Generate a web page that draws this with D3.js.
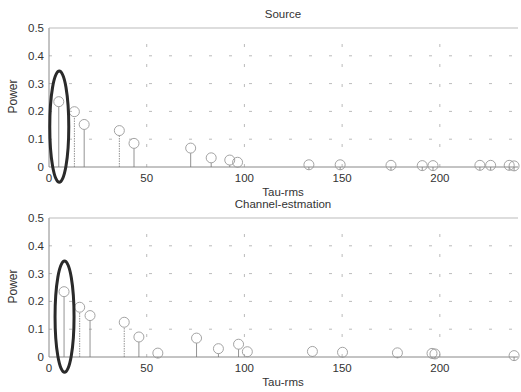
<!DOCTYPE html>
<html>
<head>
<meta charset="utf-8">
<script src="https://cdn.jsdelivr.net/npm/d3@7/dist/d3.min.js"></script>
<style>
  body { margin: 0; background: #fff; }
  svg text { font-family: "Liberation Sans", Arial, sans-serif; fill: #333; }
</style>
</head>
<body>
<svg id="chart" width="521" height="392"></svg>
<script>
// Source panel (tau-rms, power)
const sourceTau   = [5, 13, 18, 36, 43.5, 72.5, 83, 92.5, 96.5, 133, 149, 175, 191, 196.5, 220.5, 226, 235.5, 238];
const sourcePower = [0.235, 0.199, 0.153, 0.131, 0.085, 0.068, 0.033, 0.025, 0.017, 0.008, 0.008, 0.006, 0.005, 0.005, 0.006, 0.006, 0.006, 0.004];

// Channel-estimation panel
const chanTau   = [7.7, 15.7, 21, 38.5, 46, 55.7, 75.5, 86.7, 97, 101.5, 134.8, 150.2, 178.3, 196, 197.5, 238];
const chanPower = [0.235, 0.179, 0.149, 0.125, 0.072, 0.014, 0.068, 0.03, 0.046, 0.019, 0.02, 0.017, 0.015, 0.013, 0.011, 0.005];

const xTicks = [0, 50, 100, 150, 200];
const yTicks = [0, 0.1, 0.2, 0.3, 0.4, 0.5];
const titles = ["Source", "Channel-estmation"];

const svg = d3.select("#chart");
const margin = {left: 49, right: 3};
const width = 521;

const x = d3.scaleLinear().domain([0, 240]).range([margin.left, width - margin.right]);

function drawPanel(top, bottom, tau, power, title) {
  const y = d3.scaleLinear().domain([0, 0.5]).range([bottom, top]);
  const g = svg.append("g");

  // dashed grid
  g.selectAll(".hgrid").data(yTicks.slice(1, 5)).enter().append("line")
    .attr("x1", x(0)).attr("x2", x(240))
    .attr("y1", d => y(d)).attr("y2", d => y(d))
    .attr("stroke", "#aaa").attr("stroke-width", 0.8)
    .attr("stroke-dasharray", "3,17");
  g.selectAll(".vgrid").data(xTicks.slice(1)).enter().append("line")
    .attr("x1", d => x(d)).attr("x2", d => x(d))
    .attr("y1", y(0)).attr("y2", y(0.5))
    .attr("stroke", "#aaa").attr("stroke-width", 0.8)
    .attr("stroke-dasharray", "3,17");

  // axes box (left, bottom, top)
  g.append("line").attr("x1", x(0)).attr("x2", x(0)).attr("y1", y(0)).attr("y2", y(0.5))
    .attr("stroke", "#888").attr("stroke-width", 1);
  g.append("line").attr("x1", x(0)).attr("x2", x(240)).attr("y1", y(0)).attr("y2", y(0))
    .attr("stroke", "#888").attr("stroke-width", 1);
  g.append("line").attr("x1", x(0)).attr("x2", x(240)).attr("y1", y(0.5)).attr("y2", y(0.5))
    .attr("stroke", "#bbb").attr("stroke-width", 1);

  // tick labels
  g.selectAll(".ylab").data(yTicks).enter().append("text")
    .attr("x", x(0) - 5).attr("y", d => y(d)).attr("dy", "0.35em")
    .attr("text-anchor", "end").attr("font-size", 11.5)
    .text(d => d3.format(".1~f")(d));
  g.selectAll(".xlab").data(xTicks).enter().append("text")
    .attr("x", d => x(d)).attr("y", y(0) + 11).attr("dy", "0.35em")
    .attr("text-anchor", "middle").attr("font-size", 11.5)
    .text(d => d);

  // stems
  g.selectAll(".stem").data(tau).enter().append("line")
    .attr("x1", d => x(d)).attr("x2", d => x(d))
    .attr("y1", y(0)).attr("y2", (d, i) => y(power[i]) + 5)
    .attr("stroke", "#777").attr("stroke-width", 0.8)
    .attr("stroke-dasharray", (d, i) => (i === 1 || i === 3 ? "1.5,1" : null));

  // markers
  g.selectAll(".mark").data(tau).enter().append("circle")
    .attr("cx", d => x(d)).attr("cy", (d, i) => y(power[i]))
    .attr("r", 5).attr("fill", "none")
    .attr("stroke", "#999").attr("stroke-width", 0.9);

  // ellipse highlight around first component
  g.append("ellipse")
    .attr("cx", x(tau[0]) + 0.5)
    .attr("cy", y(0.145))
    .attr("rx", 9.5)
    .attr("ry", y(0) - y(0.2))
    .attr("fill", "none").attr("stroke", "#2a2a2a").attr("stroke-width", 3);

  // labels
  g.append("text").attr("x", 283).attr("y", y(0) + 25).attr("dy", "0.35em")
    .attr("text-anchor", "middle").attr("font-size", 11.5).text("Tau-rms");
  g.append("text").attr("x", 283).attr("y", top - 14).attr("dy", "0.35em")
    .attr("text-anchor", "middle").attr("font-size", 11.5).text(title);
  g.append("text")
    .attr("transform", `translate(13,${(top + bottom) / 2 - 1}) rotate(-90)`)
    .attr("dy", "0.35em").attr("text-anchor", "middle").attr("font-size", 12)
    .text("Power");
}

drawPanel(28, 167, sourceTau, sourcePower, titles[0]);
drawPanel(218, 357, chanTau, chanPower, titles[1]);
</script>
</body>
</html>
